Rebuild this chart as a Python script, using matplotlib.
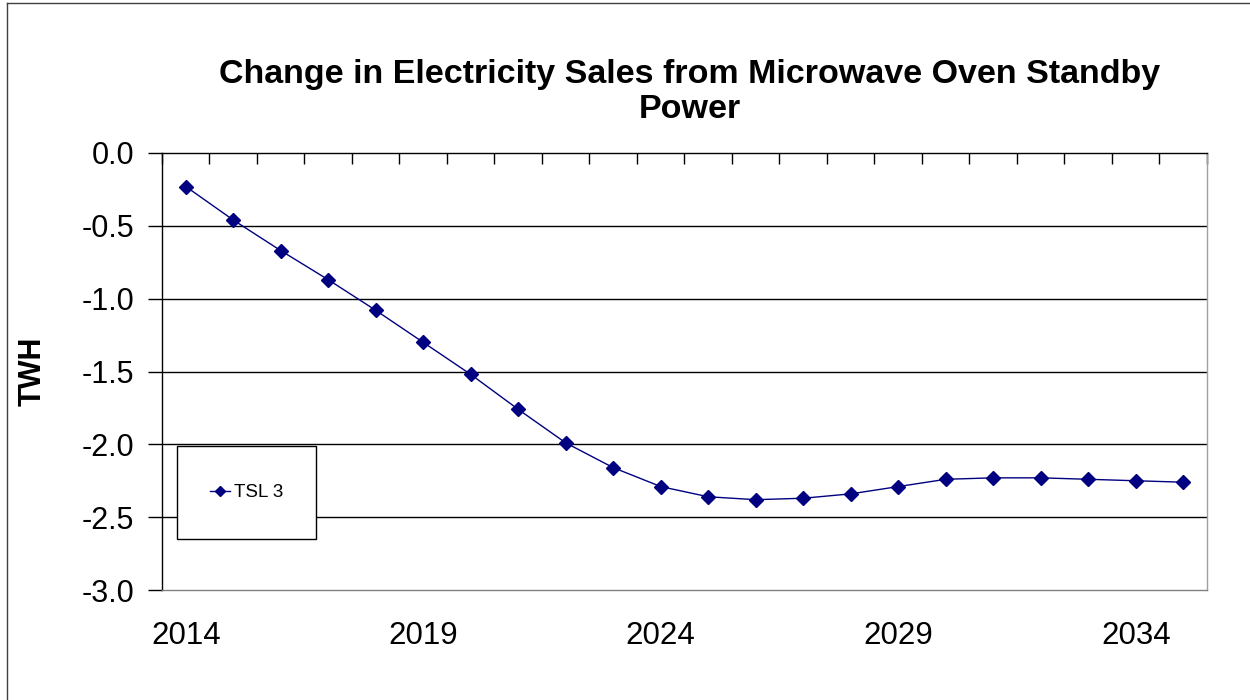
import numpy as np
import matplotlib
matplotlib.use("Agg")
import matplotlib.pyplot as plt
from matplotlib.patches import Rectangle
from matplotlib.lines import Line2D

plt.rcParams['font.family'] = ['Liberation Sans', 'DejaVu Sans']

# data
anos = list(range(2014, 2036))
tsl3 = [-0.23, -0.46, -0.67, -0.87, -1.08, -1.30, -1.52, -1.76, -1.99, -2.16, -2.29,
        -2.36, -2.38, -2.37, -2.34, -2.29, -2.24, -2.23, -2.23, -2.24, -2.25, -2.26]
rotulos_x = [2014, 2019, 2024, 2029, 2034]
rotulos_y = [0.0, -0.5, -1.0, -1.5, -2.0, -2.5, -3.0]

fig = plt.figure(figsize=(12.5, 7), dpi=100)
ax = fig.add_axes([162/1250, 1-590/700, 1045/1250, 437/700])

ax.plot(anos, tsl3, color='#000080', lw=1, marker='D', ms=7, label='TSL 3', zorder=3)

ax.set_xlim(2013.5, 2035.5)
ax.set_ylim(-3, 0)

ax.set_yticks(rotulos_y)
ax.set_yticklabels([f"{v:.1f}" for v in rotulos_y])
for v in rotulos_y[1:-1]:
    ax.axhline(v, color='black', lw=1, zorder=1)

ax.set_xticks(rotulos_x)
ax.set_xticklabels([str(a) for a in rotulos_x])
ax.set_xticks(np.arange(2013.5, 2036, 1), minor=True)
ax.tick_params(axis='x', which='major', length=0, pad=22, labelsize=22.5)
ax.tick_params(axis='x', which='minor', bottom=False, top=True, direction='in', length=8, width=1)
ax.tick_params(axis='y', which='major', length=10, width=1, pad=10, labelsize=22)

ax.spines['top'].set_color('black')
ax.spines['left'].set_color('black')
ax.spines['right'].set_color('#a0a0a0')
ax.spines['bottom'].set_color('#808080')
for s in ax.spines.values():
    s.set_linewidth(1)

# legend box
x0, y0 = (177-162)/1045, (590-539)/437
w, h = (316-177)/1045, (539-446)/437
ax.add_patch(Rectangle((x0, y0), w, h, transform=ax.transAxes, facecolor='white',
                       edgecolor='black', lw=1, zorder=4))
leg = ax.legend(loc='center', bbox_to_anchor=(x0 + w/2, y0 + h/2), frameon=False,
                fontsize=13.5, handlelength=1.1, handletextpad=0.2, markerscale=0.75)
leg.set_zorder(5)

fig.text(0.552, 1-75/700, "Change in Electricity Sales from Microwave Oven Standby",
         ha='center', va='center', fontsize=24.5, fontweight='bold')
fig.text(0.552, 1-110/700, "Power", ha='center', va='center', fontsize=24.5, fontweight='bold')
fig.text(33/1250, 1-371/700, "TWH", ha='center', va='center', rotation=90,
         fontsize=22, fontweight='bold')

# outer chart border
fig.add_artist(Line2D([7/1250, 7/1250], [0, 1-3/700], transform=fig.transFigure, color='#404040', lw=1))
fig.add_artist(Line2D([7/1250, 1], [1-3/700, 1-3/700], transform=fig.transFigure, color='#404040', lw=1))

fig.savefig("out.png", dpi=100)
